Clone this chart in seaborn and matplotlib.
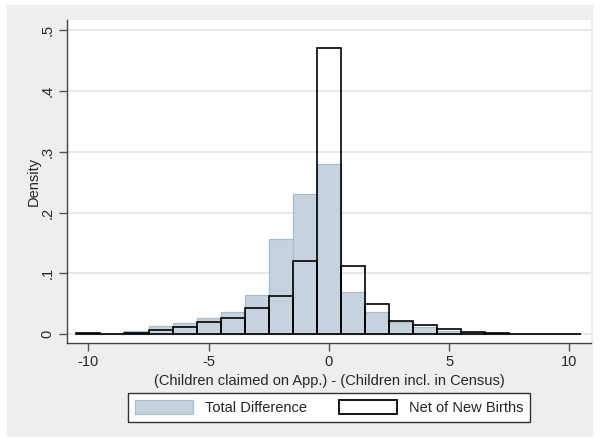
import numpy as np
import pandas as pd
import matplotlib
matplotlib.use("Agg")
import matplotlib.pyplot as plt
from matplotlib.patches import Rectangle, Patch
import seaborn as sns

# Histogram values (bin width 1, centred on integers)
diff_values = list(range(-10, 11))
total_density = [0.001, 0.001, 0.006, 0.0135, 0.019, 0.026, 0.037, 0.0645, 0.156, 0.230,
                 0.280, 0.070, 0.036, 0.021, 0.0125, 0.006, 0.003, 0.001, 0.0007, 0.0005, 0.0003]
net_density = [0.0015, 0.001, 0.002, 0.007, 0.0125, 0.021, 0.027, 0.043, 0.063, 0.120,
               0.470, 0.113, 0.049, 0.022, 0.015, 0.008, 0.004, 0.0015, 0.001, 0.0008, 0.0008]
y_ticks = [0, 0.1, 0.2, 0.3, 0.4, 0.5]
y_tick_labels = ["0", ".1", ".2", ".3", ".4", ".5"]
x_ticks = [-10, -5, 0, 5, 10]
legend_labels = ["Total Difference", "Net of New Births"]

df = pd.DataFrame({"diff": diff_values, "total": total_density, "net": net_density})

sns.set_style("white")
plt.rcParams["font.family"] = ["Liberation Sans", "DejaVu Sans"]

fill_col = "#c6d3de"
edge_col = "#a9bccc"

fig = plt.figure(figsize=(6, 4.38), dpi=100, facecolor="white")
# Stata-like grey graph region
fig.patches.append(Rectangle((7 / 600, 1 - 437 / 438), 586 / 600, 432 / 438,
                             transform=fig.transFigure, facecolor="#eeeeee",
                             edgecolor="none", zorder=-10))
ax = fig.add_axes([67 / 600, 1 - 343 / 438, 524 / 600, 323 / 438])
ax.set_facecolor("white")

ax.set_xlim(-10.89, 10.9)
ax.set_ylim(-0.0143, 0.5164)

for y in y_ticks:
    ax.axhline(y, color="#e8e8e8", lw=1.4, zorder=0)

sns.histplot(data=df, x="diff", weights="total", discrete=True, stat="count",
             color=fill_col, edgecolor=edge_col, linewidth=0.9, alpha=1, ax=ax, zorder=2)
sns.histplot(data=df, x="diff", weights="net", discrete=True, stat="count",
             fill=False, color="black", linewidth=1.2, ax=ax, zorder=3)

ax.set_xticks(x_ticks)
ax.set_xticklabels([str(v) for v in x_ticks], fontsize=10.5)
ax.set_yticks(y_ticks)
ax.set_yticklabels(y_tick_labels, fontsize=10.5, rotation=90, va="center")
ax.tick_params(axis="both", direction="out", length=6, width=1, color="#555555",
               pad=3, bottom=True, left=True)
for s in ["top", "right"]:
    ax.spines[s].set_visible(False)
for s in ["left", "bottom"]:
    ax.spines[s].set_color("#444444")
    ax.spines[s].set_linewidth(1)

ax.set_xlabel("(Children claimed on App.) - (Children incl. in Census)", fontsize=10.5, labelpad=3)
ax.set_ylabel("Density", fontsize=10.5, labelpad=0)

handles = [Patch(facecolor=fill_col, edgecolor=edge_col, lw=0.9),
           Patch(facecolor="white", edgecolor="black", lw=1.3)]
leg = fig.legend(handles, legend_labels, loc="center", bbox_to_anchor=(329 / 600, 1 - 407.5 / 438),
                 ncol=2, frameon=True, fancybox=False, framealpha=1, fontsize=10.5,
                 handlelength=4.0, handleheight=1.1, columnspacing=2.2, borderpad=0.45,
                 handletextpad=0.8)
leg.get_frame().set_edgecolor("#333333")
leg.get_frame().set_linewidth(1)

fig.savefig("out.png", dpi=100, facecolor="white")
